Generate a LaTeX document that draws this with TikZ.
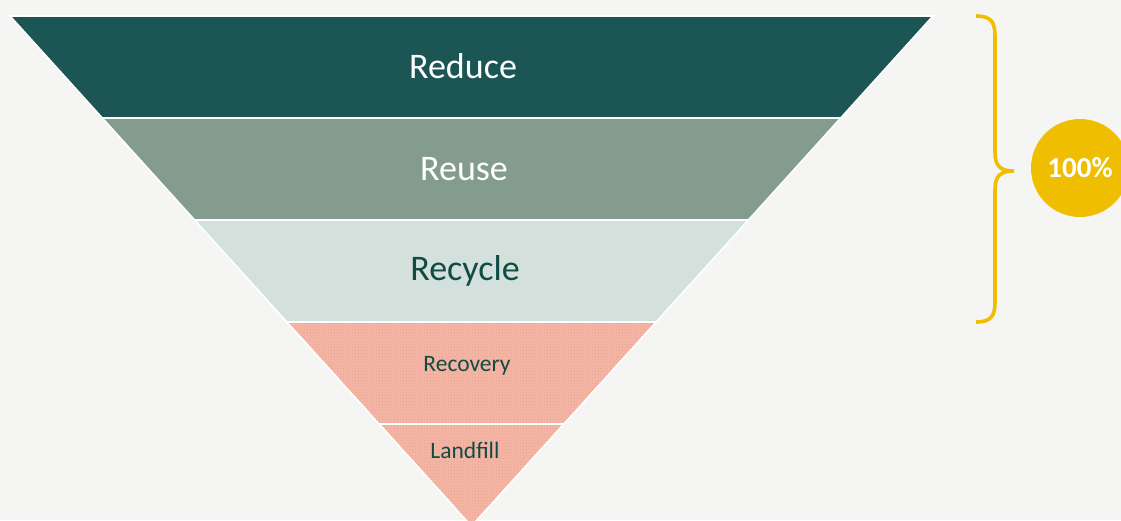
\documentclass[tikz,border=0pt]{standalone}
\usepackage{fontspec}
\setmainfont{Carlito}
\usepackage{tikz}
\usetikzlibrary{patterns}
\definecolor{WasteBack}{RGB}{245,245,244}
\definecolor{WasteColor1}{RGB}{27,86,84}
\definecolor{WasteColor2}{RGB}{131,156,141}
\definecolor{WasteColor3}{RGB}{211,224,219}
\definecolor{WasteColor4}{RGB}{245,182,166}
\definecolor{WasteDots}{RGB}{232,160,142}
\definecolor{WasteText}{RGB}{16,75,68}
\definecolor{WasteGold}{RGB}{240,190,0}

\begin{document}
\begin{tikzpicture}[x=1pt,y=-1pt,
   band/.style={fill=#1,draw=white,line width=1.6pt,line join=miter},
   lbl/.style={font=\fontsize{#1}{#1}\selectfont,inner sep=0pt},
   pct/.style={circle,fill=WasteGold,minimum size=98pt,inner sep=0pt,text=white,font=\fontsize{29}{29}\selectfont\bfseries}]
\useasboundingbox (0,0) rectangle (1121,520);
\clip (0,0) rectangle (1121,520);
\fill[WasteBack] (0,0) rectangle (1121,520);
% the funnel, top band first
\foreach \i/\xl/\xr/\xL/\xR/\c in %
{0/10/933/102.3/840.7/WasteColor1,
 1/102.3/840.7/194.6/748.4/WasteColor2,
 2/194.6/748.4/286.9/656.1/WasteColor3,
 3/286.9/656.1/379.2/563.8/WasteColor4,
 4/379.2/563.8/471.5/471.5/WasteColor4} {
   \draw[band=\c] (\xl,16+102*\i) -- (\xr,16+102*\i) -- (\xR,118+102*\i) -- (\xL,118+102*\i) -- cycle;
}
\foreach \i/\xl/\xr/\xL/\xR in %
{3/286.9/656.1/379.2/563.8, 4/379.2/563.8/471.5/471.5} {
   \fill[pattern=crosshatch dots,pattern color=WasteDots] (\xl+2,16+102*\i+1) -- (\xr-2,16+102*\i+1) -- (\xR,117+102*\i) -- (\xL,117+102*\i) -- cycle;
}
\node[lbl=36,text=white] (reduce) at (463,66) {Reduce};
\node[lbl=36,text=white] (reuse) at (464,169) {Reuse};
\node[lbl=36,text=WasteText] (recycle) at (465,271) {Recycle};
\node[lbl=23.5,text=WasteText] (recovery) at (467,366) {Recovery};
\node[lbl=23.5,text=WasteText] (landfill) at (465,450) {Landfill};
% brace and share
\coordinate (tip) at (1014,171);
\draw[WasteGold,line width=3.6pt] (976,16) .. controls (991,16) and (995,22) .. (995,36) -- (995,152)
   .. controls (995,166) and (1000,171) .. (tip) .. controls (1000,171) and (995,176) .. (995,190)
   -- (995,302) .. controls (995,316) and (991,322) .. (976,322);
\node[pct] (share) at (1080,168) {100\%};
\end{tikzpicture}
\end{document}
